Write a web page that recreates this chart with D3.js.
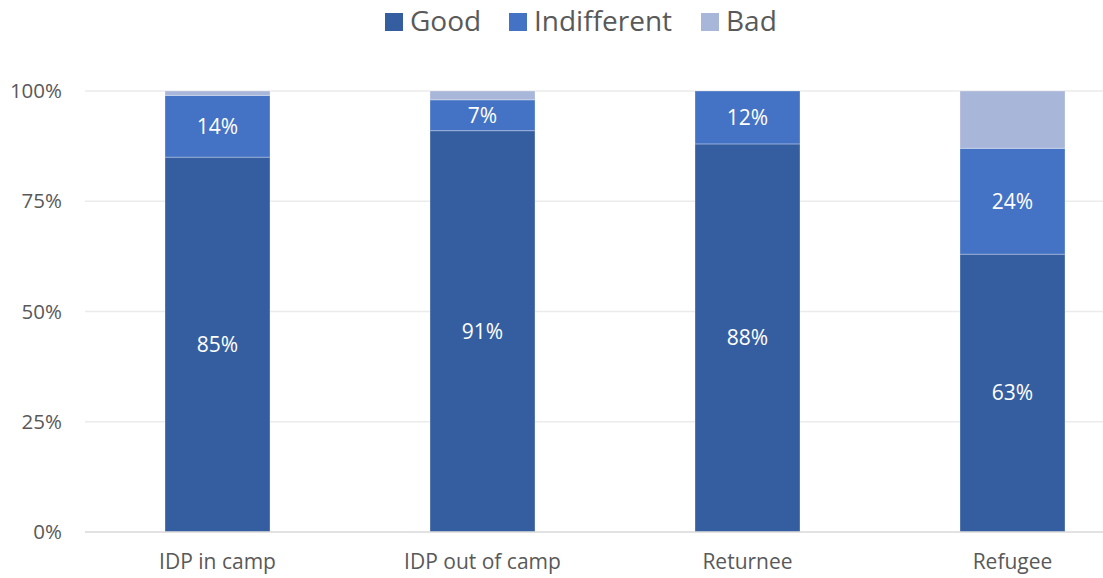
<!DOCTYPE html>
<html><head><meta charset="utf-8">
<script src="https://cdn.jsdelivr.net/npm/d3@7"></script>
<style>body{margin:0;background:#fff}svg{display:block}text{font-family:"Open Sans","Liberation Sans",sans-serif}</style>
</head><body><div id="c"></div>
<script>
const categories = ["IDP in camp","IDP out of camp","Returnee","Refugee"];
const seriesNames = ["Good","Indifferent","Bad"];
const good = [85,91,88,63];
const indifferent = [14,7,12,24];
const bad = [1,2,0,13];
const yTicks = [0,25,50,75,100];
const colors = ["#355ea1","#4472c4","#a8b6da"];

const W=1103,H=578;
const svg=d3.select("#c").append("svg").attr("width",W).attr("height",H);
const x=d3.scaleBand().domain(categories).range([85,1145]).paddingInner(0.6038).paddingOuter(0.3019);
const y=d3.scaleLinear().domain([0,100]).range([532,91]);

const rows=categories.map((c,i)=>({cat:c,Good:good[i],Indifferent:indifferent[i],Bad:bad[i]}));
const stack=d3.stack().keys(seriesNames)(rows);

// grid
svg.append("g").selectAll("line").data(yTicks.filter(t=>t>0)).join("line")
 .attr("x1",85).attr("x2",W).attr("y1",d=>y(d)).attr("y2",d=>y(d))
 .attr("stroke","#ebebeb").attr("stroke-width",1.3);

stack.forEach((s,k)=>{
  svg.append("g").selectAll("rect").data(s.filter(d=>d[1]-d[0]>0)).join("rect")
   .attr("x",d=>x(d.data.cat)).attr("width",x.bandwidth())
   .attr("y",d=>y(d[1])).attr("height",d=>y(d[0])-y(d[1]))
   .attr("fill",colors[k]).attr("stroke","rgba(255,255,255,0.3)").attr("stroke-width",1);
  if(k<2){
   svg.append("g").selectAll("text").data(s).join("text")
    .attr("x",d=>x(d.data.cat)+x.bandwidth()/2)
    .attr("y",d=>(y(d[0])+y(d[1]))/2)
    .attr("dy","0.35em").attr("text-anchor","middle")
    .attr("fill","#fff").attr("font-size",21)
    .text(d=>Math.round(d[1]-d[0])+"%");
  }
});

// baseline
svg.append("line").attr("x1",85).attr("x2",W).attr("y1",y(0)).attr("y2",y(0))
 .attr("stroke","#d9d9d9").attr("stroke-width",1.5);

// y labels
svg.append("g").selectAll("text").data(yTicks).join("text")
 .attr("x",62).attr("y",d=>y(d)).attr("dy","0.35em").attr("text-anchor","end")
 .attr("fill","#595959").attr("font-size",20.5).text(d=>d+"%");

// x labels
svg.append("g").selectAll("text").data(categories).join("text")
 .attr("x",d=>x(d)+x.bandwidth()/2).attr("y",562).attr("dy","0.35em").attr("text-anchor","middle")
 .attr("fill","#595959").attr("font-size",21).text(d=>d);

// legend
const legX=[385,509,701];
const lg=svg.append("g").selectAll("g").data(seriesNames).join("g")
 .attr("transform",(d,i)=>`translate(${legX[i]},13)`);
lg.append("rect").attr("width",18).attr("height",18).attr("fill",(d,i)=>colors[i]);
lg.append("text").attr("x",25).attr("y",8).attr("dy","0.36em").attr("fill","#595959")
 .attr("font-size",28).text(d=>d);
</script></body></html>
